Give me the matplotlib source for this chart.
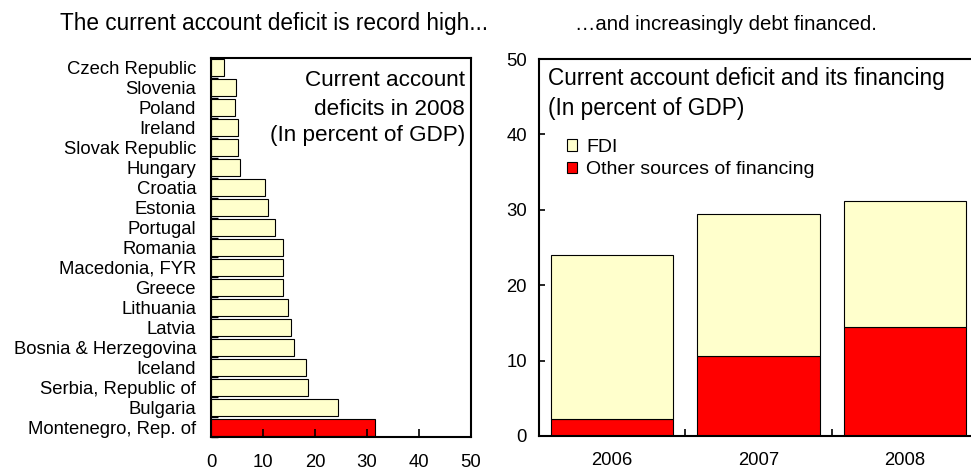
import matplotlib
matplotlib.use("Agg")
import matplotlib.pyplot as plt
from matplotlib.patches import Patch
import numpy as np

plt.rcParams['font.family'] = ['Liberation Sans', 'DejaVu Sans']

# ---- data ----
countries = ["Czech Republic", "Slovenia", "Poland", "Ireland", "Slovak Republic",
             "Hungary", "Croatia", "Estonia", "Portugal", "Romania",
             "Macedonia, FYR", "Greece", "Lithuania", "Latvia",
             "Bosnia & Herzegovina", "Iceland", "Serbia, Republic of",
             "Bulgaria", "Montenegro, Rep. of"]
deficits_2008 = [2.5, 4.8, 4.7, 5.2, 5.2, 5.5, 10.3, 10.9, 12.3, 13.9,
                 13.9, 13.8, 14.9, 15.3, 15.9, 18.3, 18.7, 24.4, 31.5]
highlight = "Montenegro, Rep. of"

years = ["2006", "2007", "2008"]
other_financing = [2.2, 10.6, 14.5]
fdi = [21.8, 18.8, 16.7]

left_xticks = [0, 10, 20, 30, 40, 50]
right_yticks = [0, 10, 20, 30, 40, 50]

YELLOW = "#FFFFCC"
RED = "#FF0000"

fig = plt.figure(figsize=(9.71, 4.72), dpi=100)

# ---- left panel ----
axL = fig.add_axes([211/971, 1-437/472, 260/971, 379/472])
n = len(countries)
ypos = np.arange(n)
colors = [RED if c == highlight else YELLOW for c in countries]
axL.barh(ypos, deficits_2008, height=0.85, color=colors, edgecolor="black", linewidth=0.8)
axL.set_ylim(n - 0.5, -0.5)
axL.set_xlim(0, 50)
axL.set_yticks(ypos)
axL.set_yticklabels(countries, fontsize=13.3)
axL.set_yticks(np.arange(n + 1) - 0.5, minor=True)
axL.tick_params(axis='y', which='major', length=0, pad=10.8)
axL.tick_params(axis='y', which='minor', direction='in', length=5, width=1)
axL.set_xticks(left_xticks)
axL.set_xticklabels([str(v) for v in left_xticks], fontsize=13.3)
axL.tick_params(axis='x', which='major', direction='in', length=6, width=1.2, pad=12)
for s in axL.spines.values():
    s.set_linewidth(1.5)
left_note = ["Current account", "deficits in 2008", "(In percent of GDP)"]
for i, line in enumerate(left_note):
    yb = [86.5, 115, 141.5][i]
    axL.text((465-211)/260, (437-yb)/379, line, transform=axL.transAxes,
             ha='right', va='baseline', fontsize=16.2)

# ---- right panel ----
axR = fig.add_axes([539/971, 1-436/472, 439/971, 377/472])
xpos = np.arange(len(years))
axR.bar(xpos, other_financing, width=0.835, color=RED, edgecolor="black", linewidth=0.8,
        label="Other sources of financing")
axR.bar(xpos, fdi, bottom=other_financing, width=0.835, color=YELLOW, edgecolor="black",
        linewidth=0.8, label="FDI")
axR.set_xlim(-0.5, len(years) - 0.5)
axR.set_ylim(0, 50)
axR.set_xticks(xpos)
axR.set_xticklabels(years, fontsize=13.3)
axR.set_xticks(xpos[:-1] + 0.5, minor=True)
axR.tick_params(axis='x', which='major', length=0, pad=11.2)
axR.tick_params(axis='x', which='minor', direction='in', length=5, width=1.2)
axR.set_yticks(right_yticks)
axR.set_yticklabels([str(v) for v in right_yticks], fontsize=13.3)
axR.tick_params(axis='y', direction='in', length=4, width=1.2, pad=8.6)
axR.spines['right'].set_visible(False)
for s in ['left', 'top', 'bottom']:
    axR.spines[s].set_linewidth(1.5)
axR.text((548-539)/439, (436-85)/377, "Current account deficit and its financing",
         transform=axR.transAxes, ha='left', va='baseline', fontsize=16.3)
axR.text((548-539)/439, (436-115)/377, "(In percent of GDP)",
         transform=axR.transAxes, ha='left', va='baseline', fontsize=16.3)
handles = [Patch(facecolor=YELLOW, edgecolor="black", linewidth=0.8, label="FDI"),
           Patch(facecolor=RED, edgecolor="black", linewidth=0.8, label="Other sources of financing")]
axR.legend(handles=handles, loc='upper left', bbox_to_anchor=((567-539)/439, (436-139)/377),
           frameon=False, fontsize=14, handlelength=0.52, handleheight=0.52,
           handletextpad=0.46, borderpad=0, borderaxespad=0, labelspacing=0.27)

# ---- titles ----
fig.text(274/971, 1-30/472, "The current account deficit is record high...",
         ha='center', va='baseline', fontsize=16.3)
fig.text(726/971, 1-30/472, "\u2026and increasingly debt financed.",
         ha='center', va='baseline', fontsize=14.7)

fig.savefig("out.png", dpi=100)
